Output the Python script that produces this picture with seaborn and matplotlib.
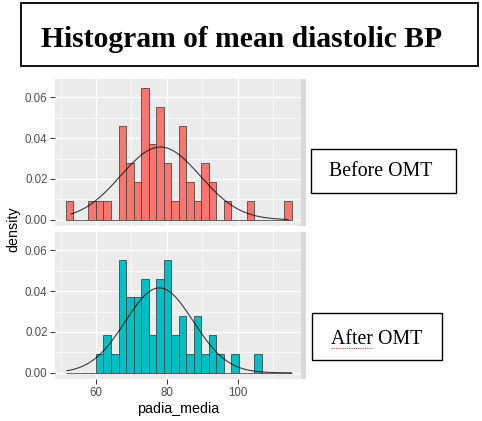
import numpy as np
import pandas as pd
import matplotlib
matplotlib.use("Agg")
import matplotlib.pyplot as plt
import seaborn as sns
from matplotlib.patches import Rectangle
from matplotlib.lines import Line2D

# ---------------- data ----------------
title = "Histogram of mean diastolic BP"
groups = ["Before OMT", "After OMT"]
bin_start = 51.5
bin_width = 2.126
n_bins = 30
counts_before = [1, 0, 0, 1, 1, 1, 0, 5, 3, 2, 7, 4, 6, 3, 1,
                 5, 2, 1, 3, 2, 0, 1, 0, 0, 1, 0, 0, 0, 0, 1]
counts_after = [0, 0, 0, 0, 1, 2, 1, 6, 4, 4, 5, 2, 5, 6, 2,
                3, 1, 3, 1, 2, 1, 0, 1, 0, 0, 1, 0, 0, 0, 0]
fit_mean = [78.2, 77.9]
fit_sd = [11.2, 9.6]
curve_range = [(53.0, 114.2), (51.8, 115.2)]
x_ticks = [60, 80, 100]
y_ticks = [0.00, 0.02, 0.04, 0.06]
x_label = "padia_media"
y_label = "density"
fill_colors = ["#F8766D", "#00BFC4"]

# ---------------- figure ----------------
W, H = 482, 421
fig = plt.figure(figsize=(W / 100, H / 100), dpi=100)
fig.patch.set_facecolor("white")

def fx(px):
    return px / W

def fy(py):
    return 1 - py / H

edges = bin_start + bin_width * np.arange(n_bins + 1)
centers = (edges[:-1] + edges[1:]) / 2
bin_range = (float(edges[0]), float(edges[-1]))

panel_left, panel_right = 54.5, 301.0
panels_y = [(79.0, 226.0), (232.0, 379.0)]
all_counts = [counts_before, counts_after]

axes = []
for i, (top, bot) in enumerate(panels_y):
    ax = fig.add_axes([fx(panel_left), fy(bot), fx(panel_right - panel_left), (bot - top) / H])
    ax.set_facecolor("#EBEBEB")
    df = pd.DataFrame({"value": centers, "count": np.asarray(all_counts[i], dtype=float)})
    sns.histplot(data=df, x="value", weights="count", bins=n_bins, binrange=bin_range,
                 stat="density", color=fill_colors[i], edgecolor="#474747",
                 linewidth=0.6, alpha=1.0, ax=ax)
    lo, hi = curve_range[i]
    xs = np.linspace(lo, hi, 300)
    ys = np.exp(-0.5 * ((xs - fit_mean[i]) / fit_sd[i]) ** 2) / (fit_sd[i] * np.sqrt(2 * np.pi))
    sns.lineplot(x=xs, y=ys, color="black", linewidth=0.8, alpha=0.75, ax=ax)

    ax.set_xlim(48.3, 117.9)
    ax.set_ylim(-0.003, 0.0689)
    ax.set_xticks(x_ticks)
    ax.set_xticks([50, 70, 90, 110], minor=True)
    ax.set_yticks(y_ticks)
    ax.set_yticks([0.01, 0.03, 0.05], minor=True)
    ax.set_yticklabels([f"{v:.2f}" for v in y_ticks], fontsize=8.3,
                       color="#4D4D4D", family="Liberation Sans")
    ax.grid(which="major", color="white", linewidth=1.0, zorder=0)
    ax.grid(which="minor", color="white", linewidth=0.5, zorder=0)
    ax.set_axisbelow(True)
    for s in ax.spines.values():
        s.set_visible(False)
    ax.tick_params(axis="y", which="major", length=3.5, width=0.7, color="#333333", pad=1.5)
    ax.tick_params(which="minor", length=0)
    ax.set_xlabel("")
    ax.set_ylabel("")
    if i == 0:
        ax.tick_params(axis="x", which="major", length=0, labelbottom=False)
    else:
        ax.set_xticklabels([str(v) for v in x_ticks], fontsize=8.3,
                           color="#4D4D4D", family="Liberation Sans")
        ax.tick_params(axis="x", which="major", length=3.5, width=0.7, color="#333333", pad=2.0)
    axes.append(ax)
    # facet strip (mostly hidden)
    fig.patches.append(Rectangle((fx(301), fy(bot)), fx(5), (bot - top) / H,
                                 transform=fig.transFigure, facecolor="#D9D9D9",
                                 edgecolor="none", zorder=1))

# axis titles
fig.text(fx((panel_left + panel_right) / 2), fy(409), x_label, ha="center", va="center",
         fontsize=10.3, color="black", family="Liberation Sans")
fig.text(fx(13), fy(229), y_label, ha="center", va="center", rotation=90,
         fontsize=10.3, color="black", family="Liberation Sans")

# title box
fig.patches.append(Rectangle((fx(20.7), fy(66)), fx(477.7 - 20.7), (66 - 3.3) / H,
                             transform=fig.transFigure, facecolor="white",
                             edgecolor="black", linewidth=1.3, zorder=5))
fig.text(fx(41), fy(47), title, ha="left", va="baseline", fontsize=21.3,
         fontweight="bold", family="Liberation Serif", color="black", zorder=6)

# group label boxes
boxes = [(311, 149, 455.7, 193, 329, 172), (312.3, 313, 441.7, 360, 330.7, 339)]
for (x0, y0, x1, y1, tx, ty), g in zip(boxes, groups):
    fig.patches.append(Rectangle((fx(x0), fy(y1)), fx(x1 - x0), (y1 - y0) / H,
                                 transform=fig.transFigure, facecolor="white",
                                 edgecolor="black", linewidth=1.0, zorder=5))
    fig.text(fx(tx), fy(ty), g, ha="left", va="center", fontsize=14.3,
             family="Liberation Serif", color="black", zorder=6)

# spell-check underline under "After"
fig.lines.append(Line2D([fx(331), fx(372)], [fy(348), fy(348)], transform=fig.transFigure,
                        color="#E04040", linewidth=0.8, linestyle=(0, (1, 1)), zorder=7))

fig.savefig("out.png", dpi=100)
